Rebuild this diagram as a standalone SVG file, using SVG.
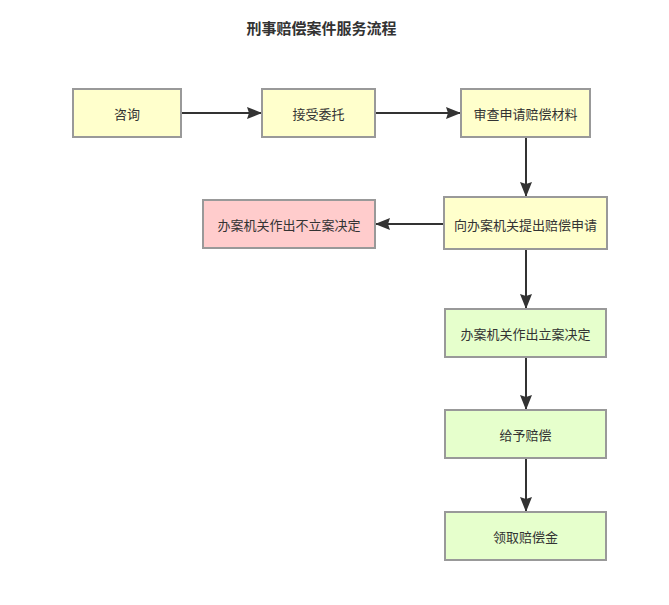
<svg xmlns="http://www.w3.org/2000/svg" width="669" height="605" viewBox="0 0 669 605">
<style>
text{font-family:"Noto Sans CJK SC","Liberation Sans",sans-serif;font-size:13px;fill:#333;text-anchor:middle;dominant-baseline:central}
.title{font-size:15px;font-weight:bold}
rect{stroke:#999;stroke-width:2}
.y{fill:#FFFFCC}.g{fill:#E6FFCC}.r{fill:#FFCCCC}
.c line{stroke:#333;stroke-width:2;marker-end:url(#ah)}
</style>
<defs>
<marker id="ah" markerWidth="15" markerHeight="12" refX="14" refY="6" orient="auto" markerUnits="userSpaceOnUse">
<path d="M0,0 L15,6 L0,12 L2,6 Z" fill="#333"/>
</marker>
</defs>
<rect width="669" height="605" fill="#fff" style="stroke:none"/>
<text class="title" x="321.5" y="27">刑事赔偿案件服务流程</text>
<g class="c" id="connectors">
<line x1="181" y1="113" x2="261" y2="113"/>
<line x1="376" y1="113" x2="460" y2="113"/>
<line x1="526" y1="138" x2="526" y2="196"/>
<line x1="443" y1="224" x2="376" y2="224"/>
<line x1="526" y1="250" x2="526" y2="308"/>
<line x1="526" y1="358" x2="526" y2="409"/>
<line x1="526" y1="459" x2="526" y2="511"/>
</g>
<g id="n1"><rect class="y" x="73" y="89" width="108" height="48"/><text x="127" y="113">咨询</text></g>
<g id="n2"><rect class="y" x="262" y="89" width="113" height="48"/><text x="318.5" y="113">接受委托</text></g>
<g id="n3"><rect class="y" x="461" y="89" width="129" height="48"/><text x="525.5" y="113">审查申请赔偿材料</text></g>
<g id="n4"><rect class="y" x="444" y="197" width="163" height="52"/><text x="525.5" y="224">向办案机关提出赔偿申请</text></g>
<g id="n5"><rect class="r" x="203" y="200" width="172" height="48"/><text x="289" y="224">办案机关作出不立案决定</text></g>
<g id="n6"><rect class="g" x="445" y="309" width="161" height="48"/><text x="525.5" y="333">办案机关作出立案决定</text></g>
<g id="n7"><rect class="g" x="445" y="410" width="161" height="48"/><text x="525.5" y="434">给予赔偿</text></g>
<g id="n8"><rect class="g" x="445" y="512" width="161" height="48"/><text x="525.5" y="536">领取赔偿金</text></g>
</svg>
